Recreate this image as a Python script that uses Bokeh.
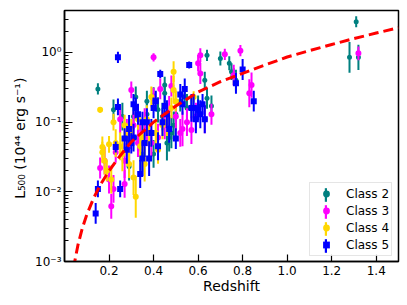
import math
from bokeh.plotting import figure
from bokeh.models import (Range1d, FixedTicker, CustomJSTickFormatter, PrintfTickFormatter,
                          Legend, LegendItem)
from bokeh.embed import file_html
from bokeh.resources import INLINE

# ---------------- data ----------------
curve_z = [0.04, 0.06, 0.08, 0.10, 0.13, 0.16, 0.20, 0.25, 0.30, 0.40, 0.50, 0.60,
           0.70, 0.80, 0.90, 1.00, 1.10, 1.20, 1.30, 1.40, 1.50]
curve_L = [8.0e-4, 1.7e-3, 3.0e-3, 4.7e-3, 8.0e-3, 0.0125, 0.020, 0.033, 0.052, 0.10, 0.17,
           0.27, 0.38, 0.50, 0.66, 0.86, 1.06, 1.30, 1.58, 1.90, 2.26]

z2 = [0.15, 0.26, 0.22, 0.29, 0.31, 0.32, 0.33, 0.35, 0.37, 0.37, 0.40, 0.40, 0.42, 0.44,
      0.45, 0.45, 0.46, 0.47, 0.48, 0.49, 0.50, 0.52, 0.54, 0.55, 0.57, 0.60, 0.63, 0.64,
      0.64, 0.66, 0.70, 0.74, 0.75, 0.76, 0.77, 1.28, 1.31, 1.32]
L2 = [0.30, 0.12, 0.15, 0.023, 0.12, 0.23, 0.06, 0.035, 0.13, 0.2, 0.24, 0.035, 0.15, 0.12,
      0.26, 0.34, 0.05, 0.06, 0.07, 0.09, 0.13, 0.2, 0.23, 0.16, 0.16, 0.17, 0.40, 0.22,
      0.91, 0.17, 0.82, 0.70, 0.53, 0.45, 0.40, 0.85, 2.76, 0.85]
e2 = [0.08, 0.2, 0.15, 0.2, 0.18, 0.15, 0.2, 0.25, 0.2, 0.15, 0.12, 0.2, 0.18, 0.2, 0.15,
      0.12, 0.25, 0.2, 0.22, 0.2, 0.2, 0.15, 0.15, 0.2, 0.15, 0.15, 0.12, 0.15, 0.08, 0.15,
      0.1, 0.1, 0.12, 0.12, 0.15, 0.22, 0.08, 0.18]

z3 = [0.16, 0.18, 0.20, 0.21, 0.22, 0.23, 0.25, 0.27, 0.27, 0.28, 0.29, 0.30, 0.31, 0.33,
      0.34, 0.36, 0.37, 0.39, 0.40, 0.40, 0.42, 0.43, 0.45, 0.47, 0.48, 0.50, 0.52, 0.53,
      0.55, 0.57, 0.59, 0.60, 0.61, 0.61, 0.63, 0.66, 0.72, 0.76, 0.79, 0.83, 0.84, 1.32]
L3 = [0.022, 0.028, 0.015, 0.0062, 0.011, 0.037, 0.11, 0.028, 0.013, 0.07, 0.045, 0.29,
      0.09, 0.05, 0.06, 0.10, 0.08, 0.05, 0.85, 0.22, 0.06, 0.30, 0.09, 0.15, 0.33, 0.12,
      0.07, 0.08, 0.10, 0.077, 0.12, 0.70, 0.50, 0.91, 0.11, 0.13, 0.94, 0.47, 1.06, 0.26,
      0.34, 0.97]
e3 = [0.15, 0.2, 0.2, 0.18, 0.2, 0.15, 0.2, 0.25, 0.2, 0.2, 0.2, 0.12, 0.2, 0.2, 0.2, 0.2,
      0.25, 0.2, 0.06, 0.15, 0.2, 0.15, 0.2, 0.2, 0.15, 0.2, 0.2, 0.25, 0.2, 0.2, 0.2, 0.12,
      0.15, 0.1, 0.2, 0.15, 0.08, 0.15, 0.08, 0.2, 0.18, 0.1]

z4 = [0.16, 0.17, 0.17, 0.18, 0.19, 0.20, 0.21, 0.22, 0.23, 0.25, 0.26, 0.27, 0.28, 0.29,
      0.30, 0.31, 0.32, 0.33, 0.34, 0.35, 0.36, 0.37, 0.38, 0.39, 0.41, 0.42, 0.44, 0.46,
      0.48, 0.49, 0.49, 0.50, 0.58]
L4 = [0.15, 0.044, 0.037, 0.028, 0.02, 0.048, 0.015, 0.10, 0.05, 0.045, 0.035, 0.09, 0.06,
      0.025, 0.07, 0.016, 0.0085, 0.11, 0.045, 0.06, 0.025, 0.11, 0.05, 0.23, 0.07, 0.04,
      0.09, 0.10, 0.16, 0.29, 0.53, 0.20, 0.23]
e4 = [0.04, 0.15, 0.15, 0.2, 0.15, 0.12, 0.2, 0.12, 0.2, 0.2, 0.25, 0.15, 0.2, 0.2, 0.2,
      0.25, 0.3, 0.15, 0.2, 0.2, 0.25, 0.2, 0.25, 0.15, 0.2, 0.2, 0.2, 0.2, 0.15, 0.2, 0.15,
      0.15, 0.08]

z5 = [0.14, 0.15, 0.23, 0.24, 0.24, 0.25, 0.27, 0.28, 0.29, 0.30, 0.31, 0.31, 0.32, 0.33,
      0.34, 0.35, 0.35, 0.36, 0.37, 0.38, 0.39, 0.40, 0.41, 0.42, 0.43, 0.44, 0.45, 0.46,
      0.47, 0.50, 0.52, 0.53, 0.54, 0.56, 0.57, 0.58, 0.59, 0.60, 0.61, 0.62, 0.63, 0.77,
      0.80, 0.85]
L5 = [0.0049, 0.011, 0.044, 0.85, 0.165, 0.011, 0.058, 0.04, 0.08, 0.05, 0.18, 0.06, 0.16,
      0.13, 0.018, 0.10, 0.03, 0.05, 0.10, 0.03, 0.07, 0.16, 0.20, 0.045, 0.49, 0.10, 0.17,
      0.13, 0.08, 0.058, 0.25, 0.18, 0.30, 0.66, 0.16, 0.16, 0.11, 0.15, 0.13, 0.18, 0.11,
      0.36, 0.57, 0.20]
e5 = [0.15, 0.12, 0.08, 0.08, 0.12, 0.12, 0.15, 0.2, 0.2, 0.15, 0.15, 0.2, 0.15, 0.15, 0.2,
      0.15, 0.25, 0.2, 0.2, 0.25, 0.2, 0.15, 0.15, 0.2, 0.06, 0.2, 0.15, 0.2, 0.2, 0.15, 0.15,
      0.15, 0.15, 0.05, 0.2, 0.2, 0.2, 0.15, 0.2, 0.15, 0.2, 0.15, 0.15, 0.15]

labels = ["Class 2", "Class 3", "Class 4", "Class 5"]
colors = ["#008080", "#ff00ff", "#ffd700", "#0000ff"]
markers = ["circle", "circle", "circle", "square"]
msizes = [5, 6, 6, 6]
xticks = [0.2, 0.4, 0.6, 0.8, 1.0, 1.2, 1.4]

FONT = "DejaVu Sans"

p = figure(width=407, height=305, x_range=Range1d(0, 1.5), y_range=Range1d(1e-3, 4.0),
           y_axis_type="log", output_backend="svg", toolbar_location=None,
           min_border_left=64, min_border_right=9, min_border_top=10, min_border_bottom=44)
p.xgrid.visible = False
p.ygrid.visible = False
p.outline_line_color = "black"
p.outline_line_width = 1.5
p.outline_line_alpha = 1.0

sets = [(z2, L2, e2), (z3, L3, e3), (z4, L4, e4), (z5, L5, e5)]
bar_r, pt_r = [], []
for (z, L, e), c, m, s in zip(sets, colors, markers, msizes):
    lo = [l * 10 ** (-d) for l, d in zip(L, e)]
    hi = [l * 10 ** d for l, d in zip(L, e)]
    b = p.vbar(x=z, bottom=lo, top=hi, width=0.009, fill_color=c, line_color=None)
    r = p.scatter(x=z, y=L, marker=m, size=s, fill_color=c, line_color=None)
    bar_r.append(b)
    pt_r.append(r)

p.line(curve_z, curve_L, line_color="red", line_width=3, line_dash="10 5")

# axes
for ax in (p.xaxis[0], p.yaxis[0]):
    ax.axis_line_color = "black"
    ax.axis_line_width = 1.5
    ax.major_tick_line_color = "black"
    ax.major_tick_line_width = 1.2
    ax.minor_tick_line_color = "black"
    ax.major_tick_out = 0
    ax.minor_tick_out = 0
    ax.major_label_text_font = FONT
    ax.major_label_text_font_size = "12px"
    ax.major_label_text_color = "black"
    ax.axis_label_text_font = FONT
    ax.axis_label_text_font_size = "14px"
    ax.axis_label_text_font_style = "normal"
    ax.axis_label_text_color = "black"

p.xaxis.ticker = FixedTicker(ticks=xticks)
p.xaxis.formatter = PrintfTickFormatter(format="%.1f")
p.xaxis.major_tick_in = 7
p.xaxis.minor_tick_line_color = None
p.xaxis.major_label_standoff = 4
p.xaxis.axis_label = "Redshift"
p.xaxis.axis_label_standoff = 0

p.yaxis.major_tick_in = 8
p.yaxis.minor_tick_in = 4
p.yaxis.minor_tick_line_width = 1
p.yaxis.major_label_standoff = 3
p.yaxis.axis_label = "L₅₀₀  (10⁴⁴ erg s⁻¹)"
p.yaxis.axis_label_standoff = 4
p.yaxis.formatter = CustomJSTickFormatter(code="""
const s = {'-':'⁻','0':'⁰','1':'¹','2':'²','3':'³','4':'⁴','5':'⁵','6':'⁶','7':'⁷','8':'⁸','9':'⁹'};
const e = Math.round(Math.log10(tick));
return '10' + String(e).split('').map(c => s[c]).join('');
""")

# legend: box with markers
legB = Legend(items=[LegendItem(label=l, renderers=[r]) for l, r in zip(labels, pt_r)],
              location=(245, 5), padding=2, spacing=0, glyph_width=28, glyph_height=17,
              label_height=17, label_standoff=6, label_text_font=FONT,
              label_text_font_size="12px", label_text_color="black",
              border_line_color="#cccccc", border_line_width=1,
              background_fill_color="white", background_fill_alpha=0.8)
# legend overlay: vertical error bars (no text)
legA = Legend(items=[LegendItem(label="", renderers=[b]) for b in bar_r],
              location=(257.5, 5), padding=2, spacing=0, glyph_width=3, glyph_height=17,
              label_height=17, label_standoff=0, label_width=0,
              border_line_alpha=0, background_fill_alpha=0)
p.add_layout(legB)
p.add_layout(legA)

open("out.html", "w").write(file_html(p, INLINE))
